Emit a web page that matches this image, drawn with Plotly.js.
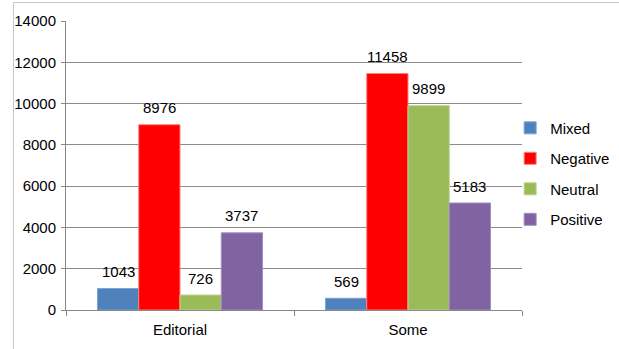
<!DOCTYPE html>
<html>
<head>
<meta charset="utf-8">
<script src="https://cdn.plot.ly/plotly-3.0.1.min.js"></script>
<style>
  html, body { margin: 0; padding: 0; background: #fff; overflow: hidden; }
  #frame {
    position: absolute; left: 13px; top: 2px; width: 606px; height: 347px;
    border-left: 1px solid #c8c8c8; border-top: 1px solid #c8c8c8;
    box-sizing: border-box;
  }
  #chart { position: absolute; left: 0; top: 0; width: 680px; height: 349px; }
</style>
</head>
<body>
<div id="frame"></div>
<div id="chart"></div>
<script>
// Article counts by sentiment, per source type
const categories = ["Editorial", "Some"];
const seriesNames = ["Mixed", "Negative", "Neutral", "Positive"];
const mixed    = [1043, 569];
const negative = [8976, 11458];
const neutral  = [726, 9899];
const positive = [3737, 5183];
const yTicks = [0, 2000, 4000, 6000, 8000, 10000, 12000, 14000];

const seriesValues = [mixed, negative, neutral, positive];
const colors = ["#4F81BD", "#FF0000", "#9BBB59", "#8064A2"];
const edgeColors = ["#7fa3d1", "#ff8080", "#bcd48f", "#a38dbf"];
const FONT = "Liberation Sans, Arial, sans-serif";
const FS = 15;

const traces = seriesNames.map((name, i) => ({
  type: "bar",
  name: name,
  legendgroup: name,
  x: categories,
  y: seriesValues[i],
  marker: { color: colors[i], line: { color: edgeColors[i], width: 1 } },
  hoverinfo: "x+y+name"
}));

// Value labels above each bar, placed at the bar's own x offset
const nSeries = seriesNames.length;
const bargap = 0.276;
const barW = (1 - bargap) / nSeries;
const annotations = [];
seriesValues.forEach((vals, i) => {
  vals.forEach((v, j) => {
    annotations.push({
      x: j - (1 - bargap) / 2 + barW * (i + 0.5),
      y: v,
      xref: "x", yref: "y",
      text: String(v),
      showarrow: false,
      yanchor: "middle",
      yshift: 17,
      font: { family: FONT, size: FS, color: "#000" }
    });
  });
});

// The drawing surface is wider than the visible window so the legend
// column never squeezes the plot area; the overflow is clipped.
const layout = {
  width: 680, height: 349,
  margin: { l: 66, r: 158, t: 21, b: 39 },
  paper_bgcolor: "rgba(0,0,0,0)",
  plot_bgcolor: "rgba(0,0,0,0)",
  barmode: "group",
  bargap: bargap,
  bargroupgap: 0,
  font: { family: FONT, size: FS, color: "#000" },
  showlegend: true,
  legend: {
    x: 0.974, xanchor: "left",
    y: 0.472, yanchor: "middle",
    font: { family: FONT, size: FS, color: "#000" },
    tracegroupgap: 8,
    bgcolor: "rgba(0,0,0,0)"
  },
  xaxis: {
    type: "category",
    range: [-0.5, 1.5],
    showline: true, linecolor: "#888", linewidth: 1,
    ticks: "outside", tickson: "boundaries", ticklen: 5, tickcolor: "#888",
    showgrid: false,
    tickfont: { family: FONT, size: FS, color: "#000" },
    ticklabelstandoff: 6
  },
  yaxis: {
    range: [0, 14000],
    tickvals: yTicks,
    ticktext: yTicks.map(String),
    showline: true, linecolor: "#888", linewidth: 1,
    ticks: "outside", ticklen: 4, tickcolor: "#888",
    showgrid: true, gridcolor: "#8c8c8c", gridwidth: 1,
    zeroline: false,
    tickfont: { family: FONT, size: FS, color: "#000" },
    ticklabelstandoff: 2
  },
  annotations: annotations
};

Plotly.newPlot("chart", traces, layout, { displayModeBar: false, staticPlot: true });
</script>
</body>
</html>
